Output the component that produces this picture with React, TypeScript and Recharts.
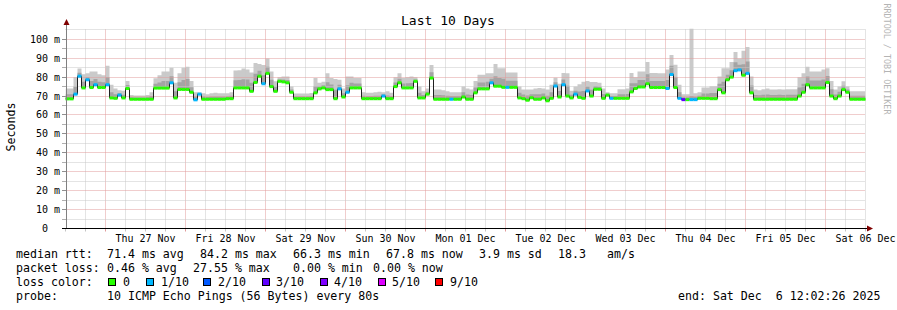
import React from 'react';
import { ComposedChart, XAxis, YAxis, Area, Line, Bar, ReferenceLine } from 'recharts';

// ---------- data ----------
const title = 'Last 10 Days';
const yAxisTitle = 'Seconds';
const watermark = 'RRDTOOL / TOBI OETIKER';
const dayLabels = ['Thu 27 Nov', 'Fri 28 Nov', 'Sat 29 Nov', 'Sun 30 Nov', 'Mon 01 Dec', 'Tue 02 Dec', 'Wed 03 Dec', 'Thu 04 Dec', 'Fri 05 Dec', 'Sat 06 Dec'];
const totalHours = 240;
const stepHours = 1.2;
const yMax = 105.7;

// median rtt (ms), one value per 1.2 h
const median = [
  68.5, 68.5, 71, 80.5, 74.3, 78.6, 74.5, 76, 74.5, 74.5,
  76, 69, 68.8, 70.5, 69, 74, 68.3, 68.3, 68.3, 68.3,
  68.3, 68.3, 74.2, 74.2, 74.2, 74.2, 77, 69, 73.5, 73.5,
  73.5, 72, 68, 71, 68.3, 68.3, 68.3, 68.3, 68.3, 68.3,
  68.6, 68.6, 74.3, 74.3, 74.3, 74.3, 72.5, 77.2, 80.5, 76.5,
  82, 75, 72.5, 77.8, 77.5, 77, 72, 68.6, 68.6, 68.6,
  68.6, 68.6, 71.7, 73.8, 74.3, 73.4, 73.4, 68.6, 73.8, 69.5,
  72, 74.3, 74.3, 74.3, 68.6, 68.6, 68.6, 68.6, 68.6, 70,
  68.6, 68.6, 75, 77, 74.3, 74.3, 74.3, 77.8, 69, 69,
  71, 79.5, 68.3, 68.3, 68.3, 68.3, 68.3, 68.3, 68.3, 69.5,
  68.3, 68.3, 71.7, 73.8, 73.8, 73.8, 77, 75.2, 75.2, 74.6,
  74.6, 74.6, 74.6, 69, 68.6, 67.8, 69.1, 68.3, 68.3, 69,
  67.5, 68.8, 75.3, 69.5, 76, 70, 69, 71, 69.3, 68.8,
  72.7, 70, 73.6, 73.6, 68.8, 70.5, 68.8, 68.8, 68.8, 68.8,
  68.8, 72.2, 74, 74.8, 74.8, 76.5, 74.5, 74.5, 74.5, 74.5,
  74, 81.4, 74.5, 68.8, 68.1, 68.1, 68.1, 68.1, 68.8, 68.8,
  68.8, 68.6, 68.6, 73.4, 71.7, 78.6, 80, 83.4, 83.8, 81,
  82, 71.7, 68.3, 68.3, 68.3, 68.3, 68.3, 68.3, 68.3, 68.3,
  68.3, 68.3, 68.3, 70, 72, 76, 74.3, 74.3, 74.3, 74.3,
  77.2, 70, 68.6, 70, 73.4, 72, 68.3, 68.3, 68.3, 68.3,
];

// loss class per step (index into lossColors)
const loss = [
  0, 0, 1, 1, 0, 1, 0, 1, 0, 0,
  1, 0, 0, 1, 0, 0, 0, 0, 0, 0,
  0, 0, 0, 0, 0, 0, 1, 0, 0, 0,
  0, 0, 1, 1, 0, 0, 0, 0, 0, 0,
  0, 0, 0, 0, 0, 0, 0, 0, 0, 1,
  0, 0, 0, 0, 0, 0, 0, 0, 0, 0,
  0, 0, 0, 0, 0, 0, 0, 0, 1, 0,
  1, 0, 0, 0, 0, 0, 0, 0, 0, 1,
  0, 0, 0, 0, 0, 0, 0, 0, 0, 0,
  0, 0, 0, 0, 0, 0, 1, 0, 0, 0,
  0, 0, 0, 0, 0, 0, 1, 0, 0, 0,
  1, 0, 0, 0, 0, 0, 0, 0, 0, 0,
  0, 0, 1, 0, 1, 0, 0, 1, 0, 0,
  1, 0, 0, 0, 0, 0, 1, 0, 0, 0,
  0, 0, 0, 0, 0, 0, 0, 0, 0, 0,
  1, 1, 0, 1, 3, 0, 1, 1, 0, 0,
  0, 0, 0, 0, 0, 0, 0, 1, 1, 0,
  1, 0, 0, 0, 0, 0, 0, 0, 0, 0,
  0, 0, 0, 0, 0, 0, 0, 0, 0, 0,
  0, 0, 0, 0, 0, 0, 0, 0, 0, 0,
];

// top of the smoke (max ping)
const smokeMax = [
  74, 74, 80, 84.6, 81.5, 82, 83, 83, 81.5, 81,
  86, 76, 74, 73, 72.8, 78, 70.5, 70.3, 70.3, 70.3,
  70.5, 72, 79.4, 81, 83, 83, 85, 77, 82, 85,
  85.5, 78, 72, 72, 71.5, 71, 71.5, 71.8, 71.5, 71.5,
  71.5, 72, 83.5, 83.7, 84.5, 84, 82.5, 87.5, 87, 86.4,
  89.8, 83, 77.8, 80, 80.3, 80.3, 75, 71.4, 71.4, 71.4,
  71.4, 71.6, 79.5, 77, 77.5, 82, 79.5, 79, 78.6, 74,
  80.3, 80.3, 79.5, 79.5, 72, 71.7, 71.7, 72, 72.3, 72,
  72.5, 71.7, 80, 82, 79.5, 80, 80.3, 80, 75, 72.6,
  74, 86.4, 73.4, 73.4, 73, 72.5, 72, 72, 72, 75,
  74, 73.4, 78, 81.2, 81.2, 82, 82, 86.9, 84.7, 84.7,
  82.4, 82.4, 82.4, 75, 73.4, 73.4, 73.4, 74, 74.3, 74,
  73.4, 76, 79.7, 76.5, 82.2, 82, 72.8, 75, 76.2, 77.5,
  78, 77.4, 77.4, 77, 74, 72, 71.5, 71.5, 73.6, 73.6,
  74, 82.2, 80, 83, 83, 88, 82.2, 82.2, 82, 82,
  84, 91.7, 86.5, 76, 71, 71, 105.7, 71.5, 72, 74.5,
  74.5, 75.2, 75.2, 80.3, 84.7, 84.7, 88, 93.3, 89.8, 94,
  95.9, 80.3, 73.4, 73, 73.6, 74, 73.4, 73.4, 73.6, 73.4,
  73.6, 73.6, 73.6, 80, 82, 85.5, 83, 83, 83, 84,
  84.7, 78, 73.4, 75, 77.8, 75, 72.6, 72.6, 72.6, 72.6,
];

// top of the denser inner smoke
const smokeMid = [
  71, 71, 75, 82.3, 77.5, 80, 78, 79, 77.5, 77.3,
  80, 72, 71, 71.6, 70.7, 75.8, 69.3, 69.2, 69.2, 69.2,
  69.3, 70, 76.5, 77.2, 78, 78, 80.5, 72.5, 77.3, 78.5,
  79, 74.7, 69.8, 71.5, 69.7, 69.5, 69.7, 69.8, 69.7, 69.7,
  69.9, 70.2, 78.4, 78.5, 78.9, 78.7, 77, 81.8, 83.4, 81,
  85.5, 78.6, 74.9, 78.8, 78.8, 78.5, 73.4, 69.9, 69.9, 69.9,
  69.9, 70, 75.2, 75.2, 75.7, 77.3, 76.1, 73.3, 76, 71.5,
  75.7, 77, 76.6, 76.6, 70.1, 70, 70, 70.1, 70.2, 70.9,
  70.3, 70, 77.2, 79.2, 76.6, 76.8, 76.9, 78.8, 71.7, 70.6,
  72.3, 82.6, 70.6, 70.6, 70.4, 70.2, 70, 70, 70, 72,
  70.8, 70.6, 74.5, 77.1, 77.1, 77.5, 79.2, 80.5, 79.5, 79.1,
  78.1, 78.1, 78.1, 71.7, 70.8, 70.3, 71, 70.9, 71, 71.3,
  70.2, 72, 77.3, 72.7, 78.8, 75.4, 70.7, 72.8, 72.4, 72.7,
  75.1, 73.3, 75.3, 75.1, 71.1, 71.2, 70, 70, 71, 71,
  71.1, 76.7, 76.7, 78.5, 78.5, 81.5, 78, 78, 77.9, 77.9,
  78.5, 86, 79.9, 72, 69.4, 69.4, 70, 69.6, 70.2, 71.3,
  71.3, 71.6, 71.6, 76.5, 77.5, 81.3, 83.6, 87.8, 86.5, 86.8,
  88.3, 75.6, 70.6, 70.4, 70.7, 70.8, 70.6, 70.6, 70.7, 70.6,
  70.7, 70.7, 70.7, 74.5, 76.5, 80.3, 78.2, 78.2, 78.2, 78.7,
  80.6, 73.6, 70.8, 72.3, 75.4, 73.4, 70.2, 70.2, 70.2, 70.2,
];

const lossColors = ['#26ff00', '#00b8ff', '#0059ff', '#5e00ff', '#7e00ff', '#dd00ff', '#ff0000'];
const lossLabels = ['0', '1/10', '2/10', '3/10', '4/10', '5/10', '9/10'];
const rttLabel = 'median rtt:';
const rttStats = ['71.4 ms avg', '84.2 ms max', '66.3 ms min', '67.8 ms now', '3.9 ms sd', '18.3', 'am/s'];
const lossLabel = 'packet loss:';
const lossStats = ['0.46 % avg', '27.55 % max', '0.00 % min', '0.00 % now'];
const lossColorLabel = 'loss color:';
const probeLabel = 'probe:';
const probeText = '10 ICMP Echo Pings (56 Bytes) every 80s';
const endText = 'end: Sat Dec  6 12:02:26 2025';

// ---------- derived tables ----------
const barData = median.map((m, i) => ({ i, median: m, loss: loss[i] }));
const lineData = Array.from({ length: median.length + 1 }, (_, i) => {
  const k = Math.min(i, median.length - 1);
  return { t: i * stepHours, median: median[k], hi: smokeMax[k], mid: smokeMid[k] };
});
const xTicks = Array.from({ length: totalHours / 6 + 1 }, (_, k) => k * 6);
const yTicks = Array.from({ length: 21 }, (_, k) => k * 5);
const vGrid = xTicks.filter((t) => t > 0);
const hGrid = Array.from({ length: 21 }, (_, k) => (k + 1) * 5);

// ---------- layout / styles ----------
const W = 897;
const H = 310;
const MONO = '"DejaVu Sans Mono", "Liberation Mono", monospace';
const PLOT_LEFT = 65.5;
const PLOT_TOP = 28.5;
const PLOT_W = 800;
const PLOT_H = 200;
const Y_AXIS_W = 40;
const X_AXIS_H = 20;
const MINOR = '#c8c8c8';
const MAJOR = '#e09a9a';

const GridShape = (props: any) => {
  const { x1, y1, x2, y2, stroke, strokeDasharray } = props;
  const snap = (v: number) => Math.floor(v) + 0.5;
  const horiz = Math.abs(y1 - y2) < 0.01;
  return (
    <line
      x1={horiz ? x1 : snap(x1)}
      x2={horiz ? x2 : snap(x2)}
      y1={horiz ? snap(y1) : y1}
      y2={horiz ? snap(y2) : y2}
      stroke={stroke}
      strokeDasharray={strokeDasharray}
      strokeWidth={1}
    />
  );
};

const XTick = (props: any) => {
  const { x, y, payload } = props;
  const t = payload.value as number;
  const isDay = (t - 12) % 24 === 0;
  const xx = Math.floor(x) + 0.5;
  const idx = t / 24 - 1;
  return (
    <g>
      <line x1={xx} x2={xx} y1={y} y2={y + 3} stroke={isDay ? MAJOR : '#c4c4c4'} />
      {t % 24 === 0 && t > 0 && (
        <text x={x} y={y + 10} textAnchor="middle" dominantBaseline="central" fontFamily={MONO} fontSize={10} fill="#000">
          {dayLabels[idx]}
        </text>
      )}
    </g>
  );
};

const YTick = (props: any) => {
  const { x, y, payload } = props;
  const v = payload.value as number;
  const major = v % 10 === 0;
  const yy = Math.floor(y) + 0.5;
  return (
    <g>
      <line x1={x - 3.5} x2={x + 1} y1={yy} y2={yy} stroke={major ? '#909090' : '#b0b0b0'} />
      {major && (
        <text x={x - 5.5} y={yy} textAnchor="end" dominantBaseline="central" fontFamily={MONO} fontSize={10} fill="#000">
          {v === 0 ? '0\u00a0\u00a0' : `${v} m`}
        </text>
      )}
    </g>
  );
};

const LossShape = (props: any) => {
  const { x, y, width, payload } = props;
  if (x == null || y == null) return <g />;
  return <rect x={x} y={y - 1.5} width={width} height={3} fill={lossColors[payload.loss]} />;
};

const T = (p: { x: number; y: number; children: React.ReactNode; size?: number; anchor?: string; fill?: string }) => (
  <text
    x={p.x}
    y={p.y}
    fontFamily={MONO}
    fontSize={p.size ?? 11.6}
    fill={p.fill ?? '#000'}
    textAnchor={(p.anchor as any) ?? 'start'}
    dominantBaseline="central"
    style={{ whiteSpace: 'pre' }}
  >
    {p.children}
  </text>
);

const rttX = [107, 200, 293, 386, 479, 558, 607];
const lossX = [107, 193, 293, 373];
const swatchX = [108, 146, 203, 262, 320, 378, 435];
const swatchLabelX = [123, 161, 218, 276, 334, 392, 450];

export default function App() {
  return (
    <div style={{ position: 'absolute', left: 0, top: 0, width: W, height: H, background: '#fff' }}>
      <div style={{ position: 'absolute', left: 0, top: 0 }}>
        <ComposedChart
          width={W}
          height={H}
          data={barData}
          margin={{
            top: PLOT_TOP,
            left: PLOT_LEFT - Y_AXIS_W,
            right: W - PLOT_LEFT - PLOT_W,
            bottom: H - PLOT_TOP - PLOT_H - X_AXIS_H,
          }}
          barCategoryGap={0}
          barGap={0}
        >
          <XAxis xAxisId="c" type="category" dataKey="i" hide height={0} orientation="top" />
          <XAxis
            xAxisId="t"
            type="number"
            dataKey="t"
            domain={[0, totalHours]}
            ticks={xTicks}
            interval={0}
            allowDataOverflow
            height={X_AXIS_H}
            axisLine={false}
            tickLine={false}
            tickSize={0}
            tickMargin={0}
            tick={(p: any) => <XTick {...p} />}
          />
          <YAxis
            type="number"
            domain={[0, yMax]}
            ticks={yTicks}
            interval={0}
            allowDataOverflow
            width={Y_AXIS_W}
            axisLine={false}
            tickLine={false}
            tickSize={0}
            tickMargin={0}
            tick={(p: any) => <YTick {...p} />}
          />
          <Area
            xAxisId="t"
            data={lineData}
            dataKey={(d: any) => [d.median, d.hi]}
            type="stepAfter"
            fill="#cacaca"
            fillOpacity={1}
            stroke="none"
            isAnimationActive={false}
          />
          <Area
            xAxisId="t"
            data={lineData}
            dataKey={(d: any) => [d.median, d.mid]}
            type="stepAfter"
            fill="#a4a4a4"
            fillOpacity={1}
            stroke="none"
            isAnimationActive={false}
          />
          {vGrid.map((t) => (
            <ReferenceLine
              key={`v${t}`}
              xAxisId="t"
              x={t}
              stroke={(t - 12) % 24 === 0 ? MAJOR : MINOR}
              strokeDasharray="1 1"
              shape={GridShape}
            />
          ))}
          {hGrid.map((v) => (
            <ReferenceLine
              key={`h${v}`}
              xAxisId="t"
              y={v}
              stroke={v % 10 === 0 ? MAJOR : MINOR}
              strokeDasharray="1 1"
              shape={GridShape}
            />
          ))}
          <Line
            xAxisId="t"
            data={lineData}
            dataKey="median"
            type="stepAfter"
            stroke="#202020"
            strokeWidth={1}
            dot={false}
            activeDot={false}
            isAnimationActive={false}
          />
          <Bar xAxisId="c" dataKey="median" shape={LossShape} isAnimationActive={false} zIndex={450} />
        </ComposedChart>
      </div>
      <svg width={W} height={H} style={{ position: 'absolute', left: 0, top: 0, pointerEvents: 'none' }}>
        {/* axes */}
        <line x1={66.5} x2={66.5} y1={229} y2={23} stroke="#808080" />
        <polygon points="63.5,25 69.5,25 66.5,19" fill="#7f0000" />
        <line x1={62} x2={868} y1={228.5} y2={228.5} stroke="#000" />
        <polygon points="867,225.5 867,231.5 873,228.5" fill="#7f0000" />
        {/* titles */}
        <T x={448} y={20} size={13} anchor="middle">{title}</T>
        <g transform="translate(11,127) rotate(-90)">
          <T x={0} y={0} anchor="middle">{yAxisTitle}</T>
        </g>
        <g transform="translate(886.5,59) rotate(90)">
          <T x={0} y={0} size={8.4} anchor="middle" fill="#b4b4b4">{watermark}</T>
        </g>
        {/* legend */}
        <T x={16} y={254}>{rttLabel}</T>
        {rttStats.map((s, k) => (
          <T key={`r${k}`} x={rttX[k]} y={254}>{s}</T>
        ))}
        <T x={16} y={268}>{lossLabel}</T>
        {lossStats.map((s, k) => (
          <T key={`l${k}`} x={lossX[k]} y={268}>{s}</T>
        ))}
        <T x={16} y={282}>{lossColorLabel}</T>
        {lossLabels.map((s, k) => (
          <g key={`c${k}`}>
            <rect x={swatchX[k] + 0.5} y={278.5} width={7} height={7} fill={lossColors[k]} stroke="#000" />
            <T x={swatchLabelX[k]} y={282}>{s}</T>
          </g>
        ))}
        <T x={16} y={296}>{probeLabel}</T>
        <T x={107} y={296}>{probeText}</T>
        <T x={678} y={296}>{endText}</T>
      </svg>
    </div>
  );
}
